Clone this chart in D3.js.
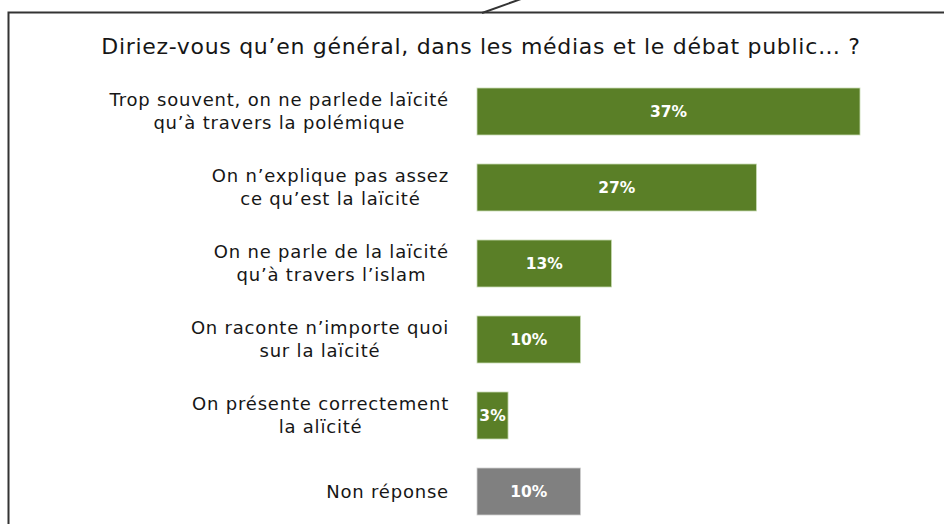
<!DOCTYPE html>
<html>
<head>
<meta charset="utf-8">
<script src="https://cdn.jsdelivr.net/npm/d3@7"></script>
<style>
  html, body { margin: 0; padding: 0; background: #ffffff; }
  svg { display: block; font-family: "DejaVu Sans", "Noto Sans", sans-serif; }
</style>
</head>
<body>
<svg width="944" height="524"></svg>
<script>
// chart data
var title = "Diriez-vous qu\u2019en g\u00e9n\u00e9ral, dans les m\u00e9dias et le d\u00e9bat public\u2026 ?";
var categories = [
  ["Trop souvent, on ne parlede la\u00efcit\u00e9", "qu\u2019\u00e0 travers la pol\u00e9mique"],
  ["On n\u2019explique pas assez", "ce qu\u2019est la la\u00efcit\u00e9"],
  ["On ne parle de la la\u00efcit\u00e9", "qu\u2019\u00e0 travers l\u2019islam"],
  ["On raconte n\u2019importe quoi", "sur la la\u00efcit\u00e9"],
  ["On pr\u00e9sente correctement", "la al\u00efcit\u00e9"],
  ["Non r\u00e9ponse"]
];
var values = [37, 27, 13, 10, 3, 10];
var isNonResponse = [false, false, false, false, false, true];

var svg = d3.select("svg");
var width = +svg.attr("width");
var height = +svg.attr("height");

// speech bubble frame
svg.append("rect")
   .attr("x", 8.5)
   .attr("y", 12.5)
   .attr("width", width + 20)
   .attr("height", height + 20)
   .style("fill", "none")
   .style("stroke", "#333333")
   .style("stroke-width", 2);

// bubble tail
svg.append("line")
   .attr("x1", 482).attr("y1", 13)
   .attr("x2", 521).attr("y2", -1)
   .style("stroke", "#333333")
   .style("stroke-width", 2);

// title
svg.append("text")
   .attr("x", 481)
   .attr("y", 54)
   .attr("text-anchor", "middle")
   .style("font-size", "22px")
   .style("letter-spacing", "0.7px")
   .style("fill", "#161616")
   .text(title);

// scales
var x = d3.scaleLinear()
          .domain([0, 37])
          .range([477, 860]);

var y = d3.scaleBand()
          .domain(d3.range(values.length))
          .range([88 - 14.5, 88 - 14.5 + 76 * 6])
          .paddingInner(29 / 76)
          .paddingOuter(14.5 / 76);

var rows = svg.append("g")
              .selectAll("g.row")
              .data(values)
              .enter()
              .append("g")
              .attr("class", "row");

// bars
rows.append("rect")
    .attr("x", x(0))
    .attr("y", function(d, i) { return y(i); })
    .attr("width", function(d) { return x(d) - x(0); })
    .attr("height", y.bandwidth())
    .style("fill", function(d, i) { return isNonResponse[i] ? "#808080" : "#5a7f27"; })
    .style("stroke", function(d, i) { return isNonResponse[i] ? "#d0d0d0" : "#c9dbb4"; })
    .style("stroke-width", 0.8);

// value labels
rows.append("text")
    .attr("x", function(d) { return (x(0) + x(d)) / 2; })
    .attr("y", function(d, i) { return y(i) + y.bandwidth() / 2; })
    .attr("dy", "0.35em")
    .attr("text-anchor", "middle")
    .style("font-size", "15.5px")
    .style("font-weight", "bold")
    .style("fill", "#ffffff")
    .text(function(d) { return d + "%"; });

// category labels, lines centred on the widest line, right edge at 449
var labelRight = 449;
var lineGap = 23;

rows.each(function(d, i) {
  var g = d3.select(this);
  var lines = categories[i];
  var t = g.append("text")
           .style("font-size", "18px")
           .style("letter-spacing", "0.8px")
           .style("fill", "#161616")
           .attr("text-anchor", "middle");
  var spans = lines.map(function(s, k) {
    return t.append("tspan")
            .attr("y", y(i) + y.bandwidth() / 2 + (k - (lines.length - 1) / 2) * lineGap)
            .attr("dy", "0.35em")
            .text(s);
  });
  var maxW = d3.max(spans, function(s) { return s.node().getComputedTextLength(); });
  spans.forEach(function(s) { s.attr("x", labelRight - maxW / 2); });
});
</script>
</body>
</html>
